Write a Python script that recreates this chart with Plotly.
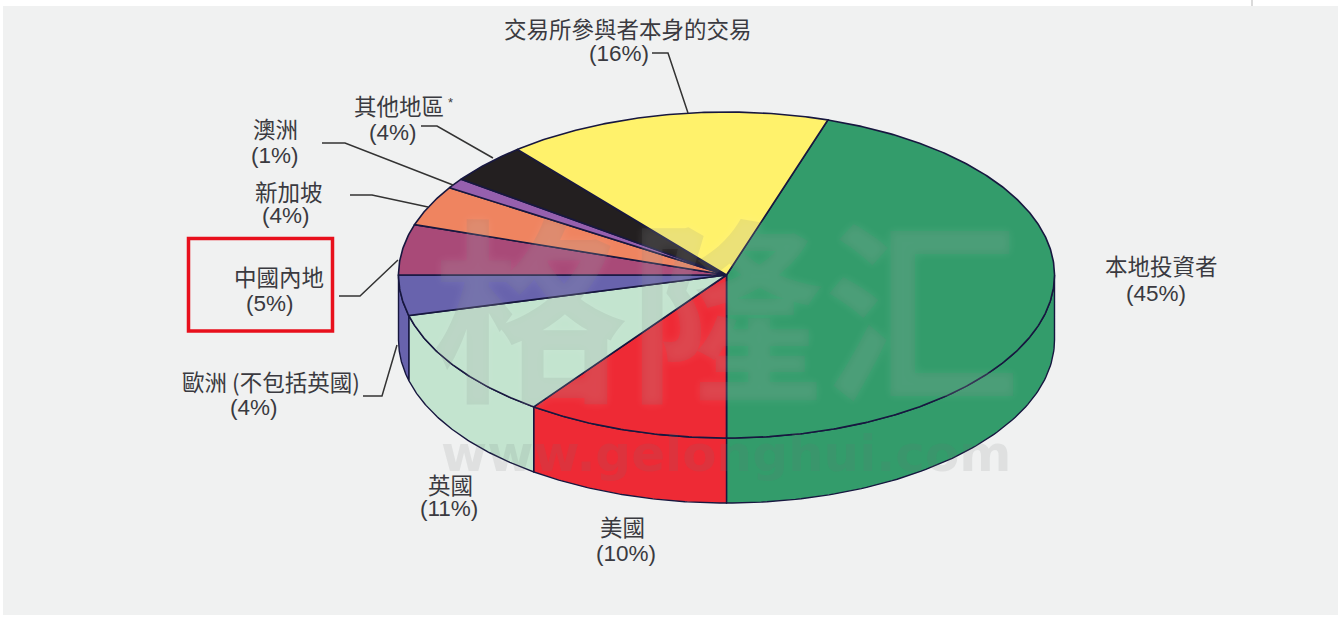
import numpy as np
import plotly.graph_objects as go

categories = ["本地投資者", "美國", "英國", "歐洲 (不包括英國)", "中國內地", "新加坡", "澳洲", "其他地區", "交易所參與者本身的交易"]
values = [45, 10, 11, 4, 5, 4, 1, 4, 16]
colors = ["#339c6b", "#ee2a35", "#c3e4cf", "#6863ad", "#a94a78", "#ef8460", "#9660ae", "#231f20", "#fff26b"]

START = 18.0
CX, CY, RX, RY, DEPTH = 726.5, 275.0, 328.0, 163.0, 65.0
EDGE = "#17173f"

cat_xy = [(1161, 264.5), (622, 525.5), (450, 483.5), (271, 380.5), (279, 275.5), (289, 190.5), (275, 127.5), (399, 104.5), (628, 27.5)]
pct_xy = [(1156, 293), (626, 553), (449, 508), (254, 407), (270, 303), (286, 215), (275, 155), (393, 132), (619, 53)]
leaders = [
    [(652, 53), (668, 53), (688, 113)],
    [(421, 126), (437, 126), (493, 158)],
    [(322, 143), (345, 143), (453, 185)],
    [(350, 195), (372, 195), (428, 207)],
    [(339, 296), (360, 296), (398, 260)],
    [(363, 396), (382, 396), (397, 345)],
]


def ell(a, dy=0.0):
    r = np.radians(a)
    return CX + RX * np.sin(r), CY - RY * np.cos(r) + dy


fig = go.Figure()
edges = START + np.concatenate([[0], np.cumsum(values)]) * 3.6

# side walls, visible front half only
for i, c in enumerate(colors):
    lo, hi = max(edges[i], 90), min(edges[i + 1], 270)
    if hi <= lo:
        continue
    a = np.linspace(lo, hi, 90)
    x1, y1 = ell(a)
    x2, y2 = ell(a[::-1], DEPTH)
    fig.add_trace(go.Scatter(x=np.r_[x1, x2, x1[0]], y=np.r_[y1, y2, y1[0]], mode="lines", fill="toself",
                             fillcolor=c, line=dict(color=EDGE, width=1.4), hoverinfo="skip"))

# top wedges
for i, c in enumerate(colors):
    pieces = [(edges[i], edges[i + 1])]
    if edges[i] < 270 < edges[i + 1]:
        pieces = [(edges[i], 270), (270, edges[i + 1])]
    for lo, hi in pieces:
        a = np.linspace(lo, hi, max(int(hi - lo) * 2, 8))
        x, y = ell(a)
        fig.add_trace(go.Scatter(x=np.r_[CX, x, CX], y=np.r_[CY, y, CY], mode="lines", fill="toself",
                                 fillcolor=c, line=dict(color=EDGE, width=1.6), hoverinfo="skip"))

# leader lines
for pts in leaders:
    fig.add_trace(go.Scatter(x=[p[0] for p in pts], y=[p[1] for p in pts], mode="lines",
                             line=dict(color="#333333", width=1.5), hoverinfo="skip"))

ann = []
ink = "#3a3a40"
for name, v, cxy, pxy in zip(categories, values, cat_xy, pct_xy):
    ann.append(dict(x=cxy[0], y=cxy[1], text=name, showarrow=False, xanchor="center", yanchor="middle",
                    font=dict(family="Noto Sans CJK TC", size=22.5, color=ink)))
    ann.append(dict(x=pxy[0], y=pxy[1], text=f"({v}%)", showarrow=False, xanchor="center", yanchor="middle",
                    font=dict(family="Liberation Sans", size=22.5, color=ink)))
ann.append(dict(x=450, y=102, text="*", showarrow=False, font=dict(family="Liberation Sans", size=13, color=ink)))

# watermark
SH = "0 0 10px rgba(255,255,255,0.6)"
ann.append(dict(x=726, y=300, text="格隆汇", showarrow=False, xanchor="center", yanchor="middle",
                font=dict(family="Noto Sans CJK SC", size=196, color="rgba(120,130,125,0.15)", weight=700, shadow=SH)))
ann.append(dict(x=726, y=454, text="www.gelonghui.com", showarrow=False, xanchor="center", yanchor="middle",
                font=dict(family="DejaVu Sans", size=50, color="rgba(110,115,115,0.13)", weight=700)))

fig.update_layout(
    width=1342, height=620, margin=dict(l=0, r=0, t=0, b=0), showlegend=False,
    paper_bgcolor="#ffffff", plot_bgcolor="#ffffff",
    xaxis=dict(range=[0, 1342], visible=False, fixedrange=True),
    yaxis=dict(range=[620, 0], visible=False, fixedrange=True),
    annotations=ann,
    shapes=[
        dict(type="rect", xref="x", yref="y", x0=3, x1=1338, y0=6, y1=615, fillcolor="#f0f1f1", line_width=0, layer="below"),
        dict(type="rect", xref="x", yref="y", x0=188.5, x1=332.5, y0=238.5, y1=331, line=dict(color="#e8101c", width=3.5), layer="above"),
        dict(type="line", xref="x", yref="y", x0=1252, x1=1252, y0=0, y1=6, line=dict(color="#b5b5b5", width=1)),
    ],
)
fig.write_html("out.html", config=dict(displayModeBar=False),
               post_script="document.body.style.margin='0';document.body.style.overflow='hidden';")
